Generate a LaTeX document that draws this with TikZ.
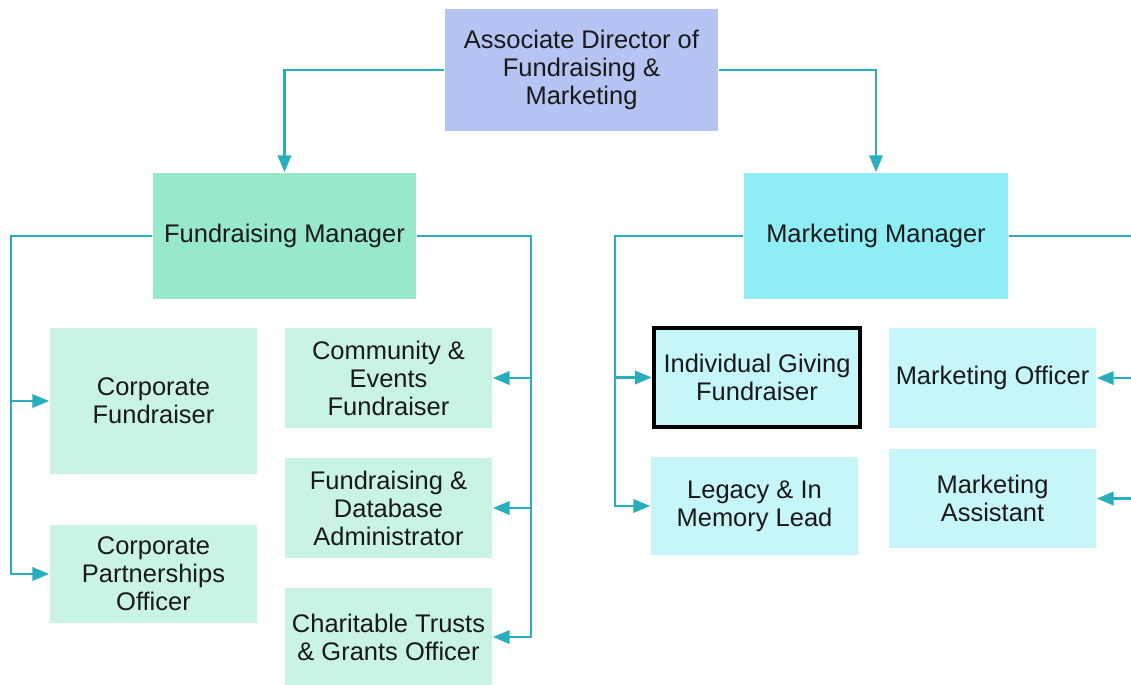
\documentclass[tikz,border=0pt]{standalone}
\usepackage{fontspec}
\setmainfont{Liberation Sans}
\usepackage{tikz}
\usetikzlibrary{arrows}

\definecolor{director}{HTML}{B6C4F4}
\definecolor{fundmgr}{HTML}{98E9C9}
\definecolor{mktmgr}{HTML}{8EEDF5}
\definecolor{fundstaff}{HTML}{C9F4E3}
\definecolor{mktstaff}{HTML}{C7F6FA}
\definecolor{wire}{HTML}{29AEBE}

\begin{document}
\begin{tikzpicture}[->,>=triangle 45,x=0.02cm,y=-0.02cm,
                    line width=1.2pt,draw=wire,
                    font=\fontsize{14.5}{16}\selectfont]
\tikzstyle{every node}=[align=center,text=black!90,inner sep=0pt]
\tikzstyle{post}=[minimum width=4.14cm,minimum height=2cm]
\tikzstyle{fundpost}=[post,fill=fundstaff]
\tikzstyle{mktpost}=[post,fill=mktstaff]
\useasboundingbox (0,0) rectangle (1131,684);
\clip (0,0) rectangle (1131,684);

% heads
\node[fill=director,minimum width=5.46cm,minimum height=2.44cm] (dir) at (581.5,70)
  {Associate Director of\\Fundraising \&\\Marketing};
\node[fill=fundmgr,minimum width=5.26cm,minimum height=2.52cm] (fm) at (284.5,236)
  {Fundraising Manager};
\node[fill=mktmgr,minimum width=5.28cm,minimum height=2.52cm] (mm) at (876,236)
  {Marketing Manager};

% fundraising team
\node[fundpost,minimum height=2.92cm] (cf) at (153.5,401) {Corporate\\Fundraiser};
\node[fundpost,minimum height=1.96cm] (cpo) at (153.5,574) {Corporate\\Partnerships\\Officer};
\node[fundpost] (cef) at (388.5,378) {Community \&\\Events\\Fundraiser};
\node[fundpost] (fda) at (388.5,508) {Fundraising \&\\Database\\Administrator};
\node[fundpost,minimum height=1.96cm] (ctg) at (388.5,637) {Charitable Trusts\\\& Grants Officer};

% marketing team
\node[mktpost,draw=black,line width=2.8pt,minimum width=4.12cm,minimum height=1.98cm] (igf) at (757,377.5)
  {Individual Giving\\Fundraiser};
\node[mktpost,minimum height=1.96cm] (lim) at (754.5,506) {Legacy \& In\\Memory Lead};
\node[mktpost] (mo) at (992.5,378) {Marketing Officer};
\node[mktpost,minimum height=1.98cm] (ma) at (992.5,498.5) {Marketing\\Assistant};

\coordinate (fmL) at (11,236);
\coordinate (fmR) at (531,236);
\coordinate (mmL) at (615,236);
\coordinate (mmR) at (1150,236);

\draw (dir.west) -| (fm.north);
\draw (dir.east) -| (mm.north);

\draw (fm.west) -- (fmL) |- (cf.west);
\draw (fmL) |- (cpo.west);
\draw (fm.east) -- (fmR) |- (cef.east);
\draw (fmR) |- (fda.east);
\draw (fmR) |- (ctg.east);

\draw (mm.west) -- (mmL) |- (igf.west);
\draw (mmL) |- (lim.west);
\draw (mm.east) -- (mmR) |- (mo.east);
\draw (mmR) |- (ma.east);
\end{tikzpicture}
\end{document}
